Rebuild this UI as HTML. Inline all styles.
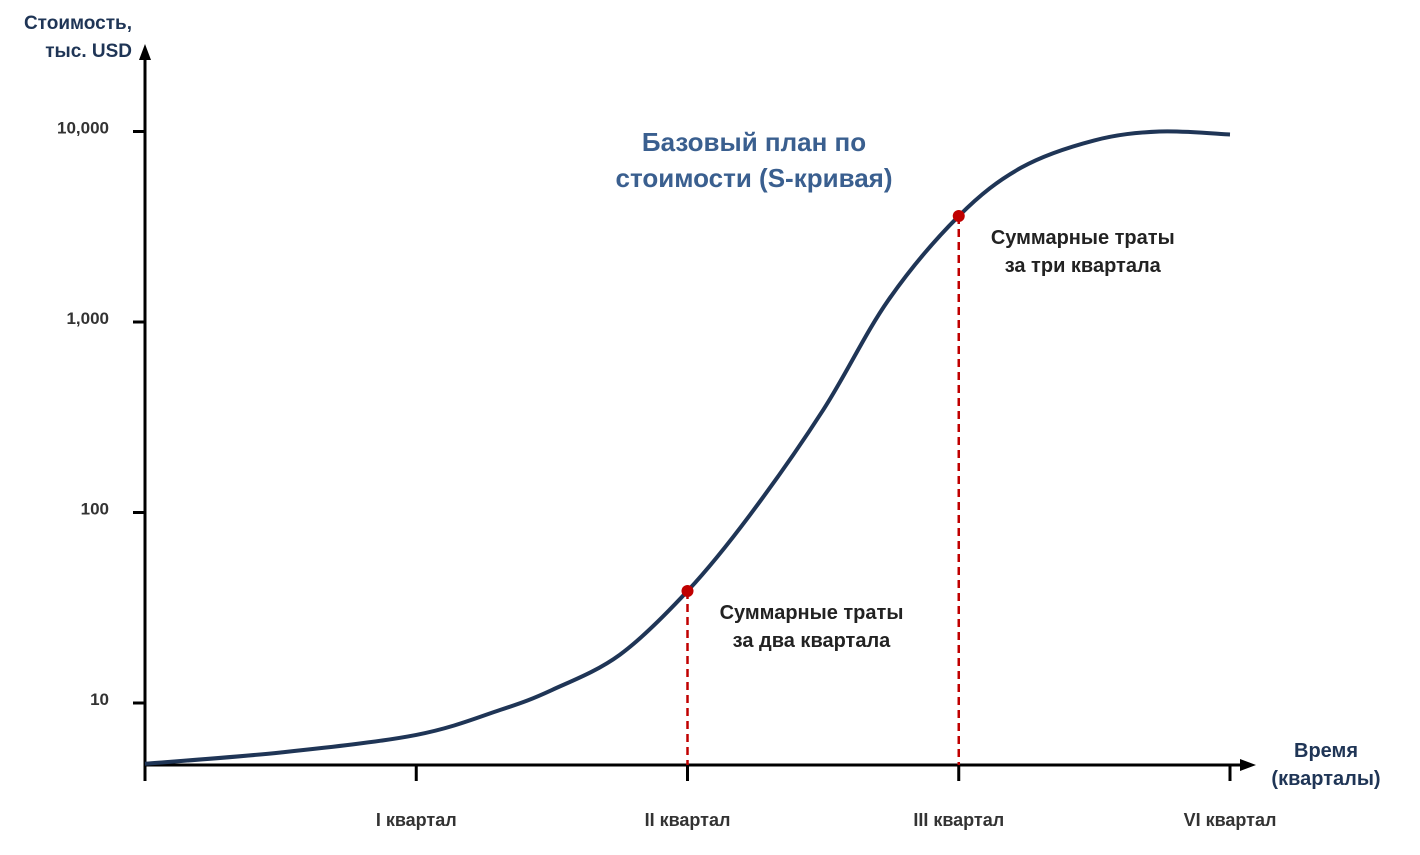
<!DOCTYPE html>
<html><head><meta charset="utf-8"><style>
body{margin:0;background:#fff;width:1420px;height:850px;overflow:hidden}
svg text{font-family:"Liberation Sans",sans-serif;font-weight:bold}
</style></head><body>
<svg id="chart" width="1420" height="850">
<text x="132" y="29" text-anchor="end" font-size="19" fill="#1f3556">Стоимость,</text>
<text x="132" y="57" text-anchor="end" font-size="19" fill="#1f3556">тыс. USD</text>
<text x="1326" y="757" text-anchor="middle" font-size="20" fill="#1f3556">Время</text>
<text x="1326" y="785" text-anchor="middle" font-size="20" fill="#1f3556">(кварталы)</text>
<text x="754" y="151" text-anchor="middle" font-size="26" fill="#3a5f8f">Базовый план по</text>
<text x="754" y="187" text-anchor="middle" font-size="26" fill="#3a5f8f">стоимости (S-кривая)</text>
<g id="axes"></g>
<g id="marks"></g>
</svg>
<script>
const quarters=[0,0.5,1,1.31,1.5,1.75,2,2.23,2.5,2.74,3,3.23,3.5,3.74,4];
const costs=[4.8,5.5,6.8,9.2,11.7,17.9,38.7,97,345,1300,3600,6460,8980,10000,9650];
const yTicks=[10,100,1000,10000];
const yTickLabels=["10","100","1,000","10,000"];
const xTicks=[1,2,3,4];
const xTickLabels=["I квартал","II квартал","III квартал","VI квартал"];
const markedQuarters=[2,3];
const markedCosts=[38.7,3600];
const notes=[["Суммарные траты","за два квартала"],["Суммарные траты","за три квартала"]];

const X=q=>145+q*271.25;
const Y=v=>703-(Math.log10(v)-1)*190.5;
const NS="http://www.w3.org/2000/svg";
function mk(tag,attrs,parent,txt){const e=document.createElementNS(NS,tag);for(const k in attrs)e.setAttribute(k,attrs[k]);if(txt!==undefined)e.textContent=txt;parent.appendChild(e);return e;}
const ax=document.getElementById('axes'),mg=document.getElementById('marks');
let e;
e=mk('line',{x1:145,y1:780,x2:145,y2:58,stroke:'#000','stroke-width':3},ax);


e=mk('polygon',{points:'145,44 139,60 151,60',fill:'#000'},ax);


e=mk('line',{x1:145,y1:765,x2:1240,y2:765,stroke:'#000','stroke-width':3},ax);


e=mk('polygon',{points:'1256,765 1240,759 1240,771',fill:'#000'},ax);


yTicks.forEach((v,i)=>{
  e=mk('line',{x1:133,y1:Y(v),x2:145,y2:Y(v),stroke:'#000','stroke-width':3},ax);
  
  
  e=mk('text',{x:109,y:Y(v)+2,'text-anchor':'end','font-size':17,fill:'#333'},ax,yTickLabels[i]);
  
  
});
xTicks.forEach((q,i)=>{
  e=mk('line',{x1:X(q),y1:765,x2:X(q),y2:781,stroke:'#000','stroke-width':3},ax);
  
  
  e=mk('text',{x:X(q),y:826,'text-anchor':'middle','font-size':18,fill:'#333'},ax,xTickLabels[i]);
  
  
});
e=mk('line',{x1:145,y1:765,x2:145,y2:781,stroke:'#000','stroke-width':3},ax);


// curve (Catmull-Rom)
const P=quarters.map((q,i)=>[X(q),Y(costs[i])]);
let d='M'+P[0][0]+','+P[0][1];
for(let i=0;i<P.length-1;i++){
  const p0=P[i-1]||P[i],p1=P[i],p2=P[i+1],p3=P[i+2]||P[i+1];
  d+=` C${p1[0]+(p2[0]-p0[0])/6},${p1[1]+(p2[1]-p0[1])/6} ${p2[0]-(p3[0]-p1[0])/6},${p2[1]-(p3[1]-p1[1])/6} ${p2[0]},${p2[1]}`;
}
markedQuarters.forEach((q,i)=>{
  e=mk('line',{x1:X(q),y1:Y(markedCosts[i]),x2:X(q),y2:765,stroke:'#c00000','stroke-width':2.5,'stroke-dasharray':'8,5'},mg);
  
  
});
e=mk('path',{d:d,fill:'none',stroke:'#1f3556','stroke-width':4},mg);


markedQuarters.forEach((q,i)=>{
  e=mk('circle',{cx:X(q),cy:Y(markedCosts[i]),r:6,fill:'#c00000'},mg);
  
  
  const tx=X(q)+124, ty=Y(markedCosts[i])+28;
  e=mk('text',{x:tx,y:ty,'text-anchor':'middle','font-size':20,fill:'#222'},mg,notes[i][0]);
  
  
  e=mk('text',{x:tx,y:ty+28,'text-anchor':'middle','font-size':20,fill:'#222'},mg,notes[i][1]);
  
  
});
</script>
</body></html>
